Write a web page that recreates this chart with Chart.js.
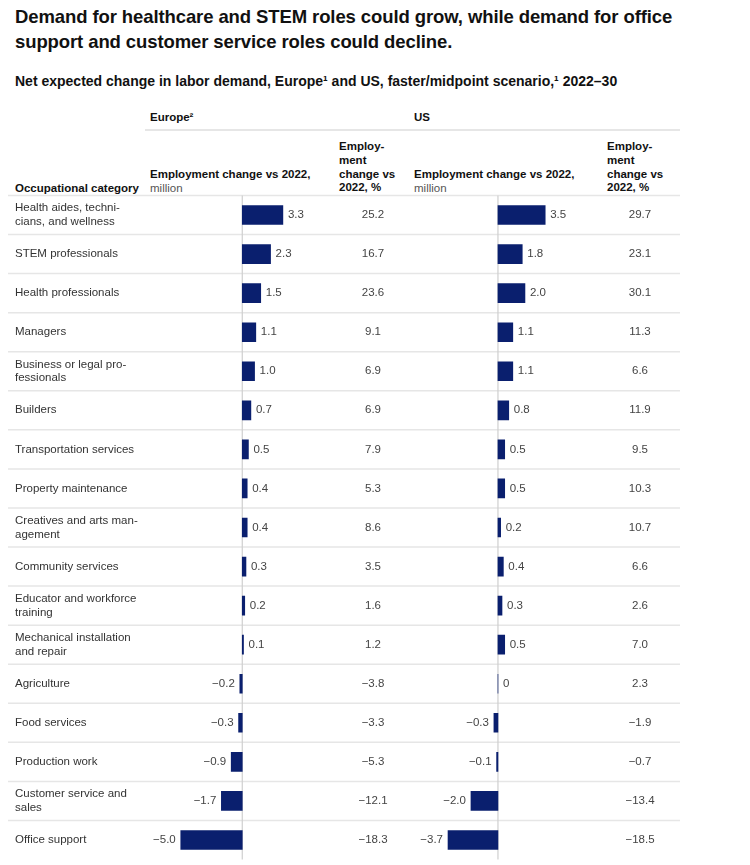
<!DOCTYPE html>
<html><head><meta charset="utf-8">
<script src="https://cdn.jsdelivr.net/npm/chart.js@4/dist/chart.umd.min.js"></script>
<style>
html,body{margin:0;padding:0;background:#fff;width:750px;height:865px;overflow:hidden;font-family:"Liberation Sans",Arial,sans-serif;}
.a{position:absolute;white-space:nowrap;}
#title{left:15px;top:4px;font-size:18.5px;font-weight:bold;color:#111;line-height:25px;letter-spacing:-0.1px;}
#sub{left:15px;top:73px;font-size:14px;font-weight:bold;color:#111;line-height:17px;}
.h{font-size:11.5px;font-weight:bold;color:#111;line-height:13.8px;}
.h span{font-weight:normal;color:#555;}
.rule{position:absolute;height:1.5px;background:#e6e6e6;}
canvas{position:absolute;}
</style></head>
<body>
<div class="a" id="title">Demand for healthcare and STEM roles could grow, while demand for office<br>support and customer service roles could decline.</div>
<div class="a" id="sub">Net expected change in labor demand, Europe¹ and US, faster/midpoint scenario,¹ 2022–30</div>
<div class="a h" style="left:150px;top:111px;">Europe²</div>
<div class="a h" style="left:414px;top:111px;">US</div>
<div class="rule" style="left:145px;top:129px;width:535px;"></div>
<div class="a h" style="left:15px;top:182px;">Occupational category</div>
<div class="a h" style="left:150px;top:168px;">Employment change vs 2022,<br><span>million</span></div>
<div class="a h" style="left:339px;top:140px;">Employ-<br>ment<br>change vs<br>2022, %</div>
<div class="a h" style="left:414px;top:168px;">Employment change vs 2022,<br><span>million</span></div>
<div class="a h" style="left:607px;top:140px;">Employ-<br>ment<br>change vs<br>2022, %</div>
<canvas id="eu" width="405" height="675" style="left:0;top:190px;width:405px;height:675px;"></canvas>
<canvas id="us" width="345" height="675" style="left:405px;top:190px;width:345px;height:675px;"></canvas>
<script>
const categories = [
  ["Health aides, techni-","cians, and wellness"],
  "STEM professionals",
  "Health professionals",
  "Managers",
  ["Business or legal pro-","fessionals"],
  "Builders",
  "Transportation services",
  "Property maintenance",
  ["Creatives and arts man-","agement"],
  "Community services",
  ["Educator and workforce","training"],
  ["Mechanical installation","and repair"],
  "Agriculture",
  "Food services",
  "Production work",
  ["Customer service and","sales"],
  "Office support"
];
const europeMillion = [3.3, 2.3, 1.5, 1.1, 1.0, 0.7, 0.5, 0.4, 0.4, 0.3, 0.2, 0.1, -0.2, -0.3, -0.9, -1.7, -5.0];
const europePct     = [25.2, 16.7, 23.6, 9.1, 6.9, 6.9, 7.9, 5.3, 8.6, 3.5, 1.6, 1.2, -3.8, -3.3, -5.3, -12.1, -18.3];
const usMillion     = [3.5, 1.8, 2.0, 1.1, 1.1, 0.8, 0.5, 0.5, 0.2, 0.4, 0.3, 0.5, 0, -0.3, -0.1, -2.0, -3.7];
const usPct         = [29.7, 23.1, 30.1, 11.3, 6.6, 11.9, 9.5, 10.3, 10.7, 6.6, 2.6, 7.0, 2.3, -1.9, -0.7, -13.4, -18.5];

const BAR = "#0a1f6e";
const FONT = '"Liberation Sans", Arial, sans-serif';
function fmt(v){ if (v === 0) return "0"; const s = Math.abs(v).toFixed(1); return v < 0 ? "\u2212" + s : s; }

const tablePlugin = {
  id: 'tablePlugin',
  beforeDatasetsDraw(chart, args, opts){
    const ctx = chart.ctx, y = chart.scales.y, x = chart.scales.x, ca = chart.chartArea;
    const n = chart.data.labels.length;
    const band = (y.getPixelForValue(1) - y.getPixelForValue(0));
    ctx.save();
    ctx.strokeStyle = "#e6e6e6"; ctx.lineWidth = 1.5;
    for (let i = -1; i < n - 1; i++) {
      const yy = y.getPixelForValue(i) + band / 2;
      ctx.beginPath(); ctx.moveTo(opts.lineFrom, yy); ctx.lineTo(opts.lineTo, yy); ctx.stroke();
    }
    const x0 = x.getPixelForValue(0);
    ctx.strokeStyle = "#cfcfcf"; ctx.lineWidth = 1.2;
    ctx.beginPath(); ctx.moveTo(x0, ca.top); ctx.lineTo(x0, ca.bottom); ctx.stroke();
    if (opts.labelX !== null) {
      ctx.font = "11.5px " + FONT; ctx.fillStyle = "#333"; ctx.textBaseline = "middle"; ctx.textAlign = "left";
      chart.data.labels.forEach((lab, i) => {
        const lines = Array.isArray(lab) ? lab : [lab];
        const cy = y.getPixelForValue(i);
        const lh = 13.8;
        lines.forEach((t, k) => ctx.fillText(t, opts.labelX, cy + (k - (lines.length - 1) / 2) * lh));
      });
    }
    ctx.restore();
  },
  afterDatasetsDraw(chart, args, opts){
    const ctx = chart.ctx;
    const meta = chart.getDatasetMeta(0);
    const vals = chart.data.datasets[0].data;
    ctx.save();
    ctx.font = "11.5px " + FONT; ctx.fillStyle = "#444"; ctx.textBaseline = "middle";
    meta.data.forEach((bar, i) => {
      const v = vals[i];
      if (v < 0) { ctx.textAlign = "right"; ctx.fillText(fmt(v), bar.x - 5, bar.y); }
      else { ctx.textAlign = "left"; ctx.fillText(fmt(v), bar.x + 5, bar.y); }
      ctx.textAlign = "center";
      ctx.fillText(fmt(opts.pct[i]), opts.pctX, bar.y);
    });
    ctx.restore();
  }
};

function makeChart(id, values, pct, cfg){
  return new Chart(document.getElementById(id), {
    type: 'bar',
    data: { labels: categories, datasets: [{ data: values, backgroundColor: BAR, barThickness: 19, borderWidth: 0 }] },
    plugins: [tablePlugin],
    options: {
      indexAxis: 'y', responsive: false, animation: false,
      layout: { padding: cfg.padding },
      plugins: { legend: { display: false }, tooltip: { enabled: false }, tablePlugin: { pct: pct, pctX: cfg.pctX, lineFrom: cfg.lineFrom, lineTo: cfg.lineTo, labelX: cfg.labelX } },
      scales: {
        x: { display: false, min: cfg.min, max: cfg.max },
        y: { display: false }
      }
    }
  });
}

makeChart('eu', europeMillion, europePct, { padding: { left: 150, right: 75, top: 5.5, bottom: 5.5 }, min: -7.5, max: 7.13, pctX: 373, lineFrom: 8, lineTo: 405, labelX: 15 });
makeChart('us', usMillion, usPct, { padding: { left: 9, right: 150, top: 5.5, bottom: 5.5 }, min: -6.22, max: 7.56, pctX: 235, lineFrom: 0, lineTo: 275, labelX: null });
</script>
</body></html>
